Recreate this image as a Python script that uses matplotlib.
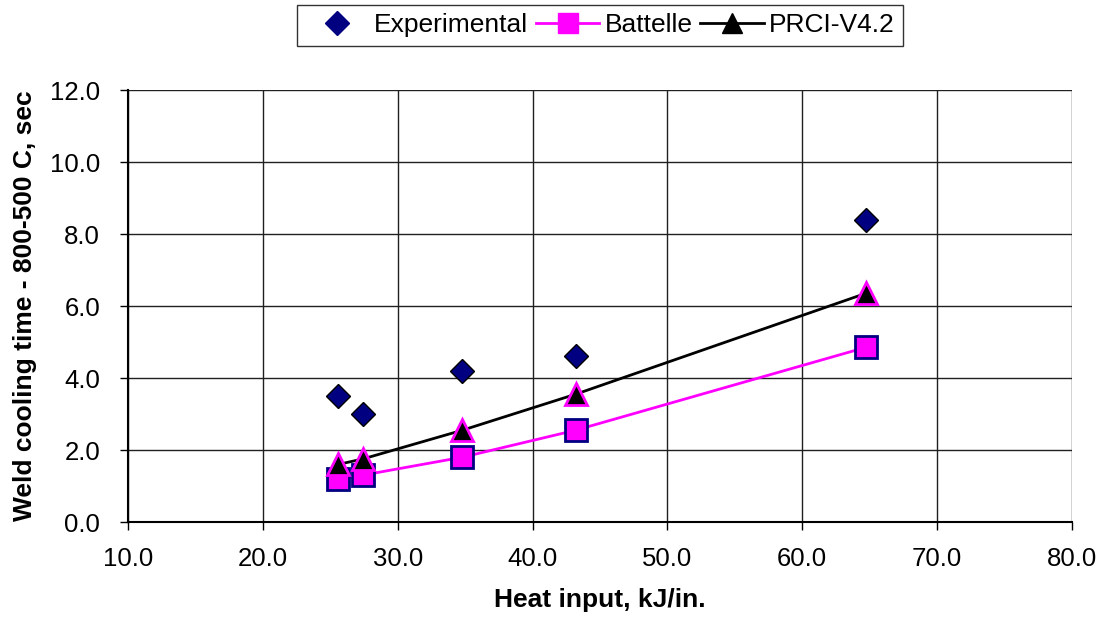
import matplotlib
matplotlib.use("Agg")
import matplotlib.pyplot as plt
from matplotlib.lines import Line2D
from matplotlib.ticker import MultipleLocator, FormatStrFormatter

heat_input = [25.6, 27.4, 34.8, 43.2, 64.7]
experimental = [3.5, 3.0, 4.2, 4.6, 8.4]
battelle = [1.2, 1.3, 1.8, 2.55, 4.85]
prci = [1.6, 1.75, 2.55, 3.55, 6.35]

NAVY = '#000080'
MAGENTA = '#FF00FF'

plt.rcParams['font.family'] = ['Liberation Sans', 'DejaVu Sans']

fig = plt.figure(figsize=(10.97, 6.21), dpi=100)
ax = fig.add_axes([128/1097, 1 - 522/621, (1072 - 128)/1097, (522 - 90)/621])

ax.plot(heat_input, experimental, linestyle='none', marker='D', markersize=12.5,
        markerfacecolor=NAVY, markeredgecolor='black', markeredgewidth=1.0,
        zorder=5)
ax.plot(heat_input, battelle, color=MAGENTA, linewidth=2, marker='s', markersize=16,
        markerfacecolor=MAGENTA, markeredgecolor=NAVY, markeredgewidth=2,
        zorder=4)
ax.plot(heat_input, prci, color='black', linewidth=2, marker='^', markersize=16,
        markerfacecolor='black', markeredgecolor=MAGENTA, markeredgewidth=2,
        zorder=6)

ax.set_xlim(10, 80)
ax.set_ylim(0, 12)
ax.xaxis.set_major_locator(MultipleLocator(10))
ax.yaxis.set_major_locator(MultipleLocator(2))
ax.xaxis.set_major_formatter(FormatStrFormatter('%.1f'))
ax.yaxis.set_major_formatter(FormatStrFormatter('%.1f'))
ax.grid(True, color='#202020', linewidth=1)
ax.set_axisbelow(True)
for s in ['top', 'right']:
    ax.spines[s].set_visible(False)
for s in ['left', 'bottom']:
    ax.spines[s].set_color('black')
    ax.spines[s].set_linewidth(1.5)
ax.tick_params(axis='both', direction='out', length=6, width=1, labelsize=18.5,
               color='black')
ax.tick_params(axis='y', pad=14)
ax.tick_params(axis='x', pad=12)

ax.set_xlabel('Heat input, kJ/in.', fontsize=19, fontweight='bold')
ax.set_ylabel('Weld cooling time - 800-500 C, sec', fontsize=19, fontweight='bold')
ax.xaxis.set_label_coords(0.5, (522 - 588) / 432)
ax.yaxis.set_label_coords((37 - 128) / 944, 0.5)

handles = [
    Line2D([], [], linestyle='none', marker='D', markersize=12, color=NAVY),
    Line2D([], [], color=MAGENTA, linewidth=2, marker='s', markersize=14),
    Line2D([], [], color='black', linewidth=2, marker='^', markersize=14),
]
labels = ['Experimental', 'Battelle', 'PRCI-V4.2']
leg = fig.legend(handles, labels, loc='upper center', bbox_to_anchor=(600/1097, 1 - 5/621),
                 ncol=3, fontsize=19, frameon=True, fancybox=False, edgecolor='black',
                 handlelength=2.4, columnspacing=0.3, handletextpad=0.2,
                 borderpad=0.32, borderaxespad=0)
leg.get_frame().set_linewidth(1)

fig.savefig('out.png', dpi=100)
